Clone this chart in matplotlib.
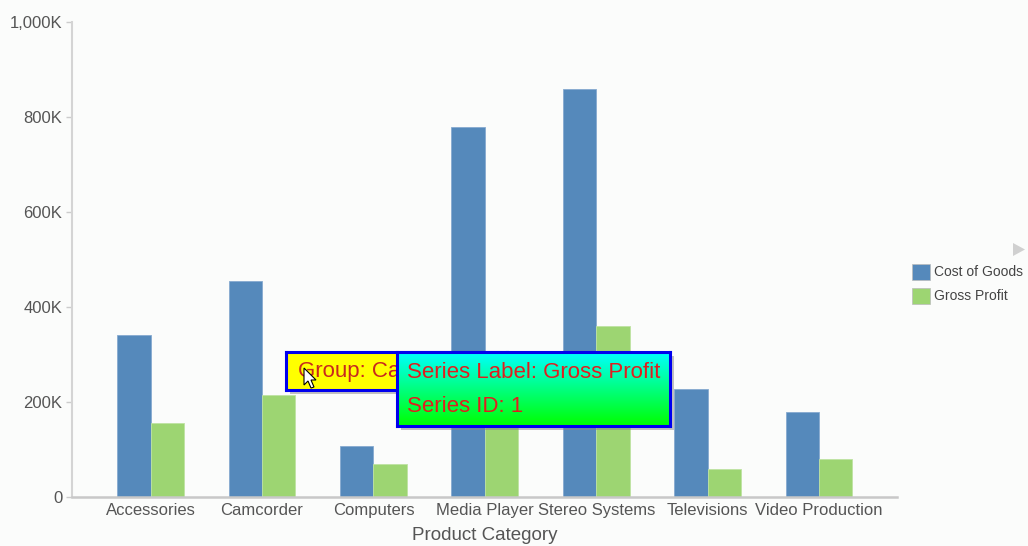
import matplotlib
matplotlib.use("Agg")
import matplotlib.pyplot as plt
import numpy as np
from matplotlib.patches import Rectangle, Polygon

categories = ["Accessories", "Camcorder", "Computers", "Media Player",
              "Stereo Systems", "Televisions", "Video Production"]
series_names = ["Cost of Goods", "Gross Profit"]
cost_of_goods = [342, 455, 108, 779, 858, 227, 180]   # thousands
gross_profit = [155, 215, 70, 280, 360, 58, 79]       # thousands
y_ticks = [0, 200, 400, 600, 800, 1000]

BLUE = "#5589bb"
GREEN = "#9dd572"
BG = "#fbfcfb"
TXT = "#555555"

plt.rcParams['font.family'] = ['Liberation Sans', 'DejaVu Sans']

W, H = 1028, 546
fig = plt.figure(figsize=(W / 100, H / 100), dpi=100, facecolor=BG)


def fx(x):
    return x / W


def fy(y):
    return 1 - y / H


ax = fig.add_axes([fx(72), fy(497), fx(897) - fx(72), fy(22) - fy(497)])
ax.set_facecolor(BG)

x = np.arange(len(categories))
w = 0.3
ax.bar(x - w / 2, cost_of_goods, w, color=BLUE, edgecolor="#86aad0", linewidth=0.6)
ax.bar(x + w / 2, gross_profit, w, color=GREEN, edgecolor="#bfe3a2", linewidth=0.6)

ax.set_xlim(-0.706, 6.70)
ax.set_ylim(0, 1000)
ax.set_yticks(y_ticks)
ax.set_yticklabels(["0" if v == 0 else f"{v:,}K" for v in y_ticks])
ax.set_xticks(x)
ax.set_xticklabels(categories)
ax.tick_params(axis='y', length=4, width=1, color="#cccccc", labelcolor=TXT,
               labelsize=12, pad=3)
ax.tick_params(axis='x', length=0, labelcolor=TXT, labelsize=12, pad=4)
for s in ["top", "right"]:
    ax.spines[s].set_visible(False)
ax.spines["left"].set_color("#d4d4d4")
ax.spines["left"].set_linewidth(1.5)
ax.spines["bottom"].set_color("#c8c8c8")
ax.spines["bottom"].set_linewidth(1.8)
ax.set_xlabel("Product Category", fontsize=13.5, color=TXT, labelpad=7)

# legend
leg_colors = [BLUE, GREEN]
for i, (name, c) in enumerate(zip(series_names, leg_colors)):
    yc = 272 + 24 * i
    fig.add_artist(Rectangle((fx(912), fy(yc + 8)), fx(18), (16 / H),
                             transform=fig.transFigure, facecolor=c,
                             edgecolor="#bbbbbb", linewidth=0.5))
    fig.text(fx(934), fy(yc), name, fontsize=10, color="#444444",
             va="center", ha="left")

# small gray triangle
fig.add_artist(Polygon([(fx(1013), fy(243)), (fx(1013), fy(256)), (fx(1025), fy(249.5))],
                       closed=True, transform=fig.transFigure,
                       facecolor="#d0d0d0", edgecolor="none"))

# tooltip 1 (yellow), partly hidden by tooltip 2
fig.add_artist(Rectangle((fx(290), fy(394)), fx(221), 38 / H, transform=fig.transFigure,
                         facecolor="#888888", alpha=0.5, edgecolor="none", zorder=5))
tt1 = fig.add_axes([fx(286), fy(390), fx(221), 38 / H], zorder=6)
tt1.set_facecolor("#ffff00")
tt1.set_xticks([]); tt1.set_yticks([])
for s in tt1.spines.values():
    s.set_color("#0000ee"); s.set_linewidth(2.2)
tt1.text(12 / 221, 0.5, "Group: Ca", transform=tt1.transAxes, fontsize=16,
         color="#c8281e", va="center", ha="left")

# tooltip 2 (gradient)
fig.add_artist(Rectangle((fx(401), fy(430)), fx(273), 74 / H, transform=fig.transFigure,
                         facecolor="#888888", alpha=0.5, edgecolor="none", zorder=7))
tt2 = fig.add_axes([fx(397), fy(426), fx(273), 74 / H], zorder=8)
grad = np.linspace(0, 1, 100)
rgb = np.zeros((100, 1, 3))
rgb[:, 0, 1] = 1
rgb[:, 0, 2] = 1 - grad
tt2.imshow(rgb, aspect="auto", extent=[0, 1, 0, 1], origin="upper")
tt2.set_xlim(0, 1); tt2.set_ylim(0, 1)
tt2.set_xticks([]); tt2.set_yticks([])
for s in tt2.spines.values():
    s.set_color("#0000ee"); s.set_linewidth(2.2)
tt2.text(10 / 273, 1 - 20 / 74, "Series Label: Gross Profit", transform=tt2.transAxes,
         fontsize=16, color="#e01e1e", va="center", ha="left")
tt2.text(10 / 273, 1 - 55 / 74, "Series ID: 1", transform=tt2.transAxes,
         fontsize=16, color="#e01e1e", va="center", ha="left")

# mouse cursor
cx, cy = 304, 368
pts = [(0, 0), (0, 17), (4, 13), (7, 20), (10, 19), (7, 12), (12, 12)]
fig.add_artist(Polygon([(fx(cx + a), fy(cy + b)) for a, b in pts], closed=True,
                       transform=fig.transFigure, facecolor="white",
                       edgecolor="black", linewidth=0.8, zorder=7))

fig.savefig("out.png", dpi=100, facecolor=BG)
